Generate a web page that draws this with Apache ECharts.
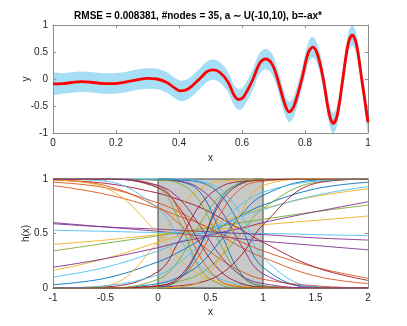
<!DOCTYPE html>
<html>
<head>
<meta charset="utf-8">
<style>
	html, body { margin: 0; padding: 0; background: #fff; }
	.main { width: 407px; height: 326px; }
</style>
<script src="https://cdn.jsdelivr.net/npm/echarts@6/dist/echarts.min.js"></script>
</head>
<body>
<div id="main" class="main"></div>
<script>
// top plot: fitted curve (red) and the noisy samples around it
var FIT_X = [0, 0.03, 0.06, 0.09, 0.12, 0.15, 0.18, 0.21, 0.24, 0.27, 0.30, 0.33, 0.36, 0.385, 0.405, 0.43,
	0.465, 0.49, 0.51, 0.53, 0.555, 0.575, 0.59, 0.605, 0.635, 0.655, 0.675, 0.695, 0.713, 0.735, 0.75,
	0.765, 0.79, 0.81, 0.825, 0.84, 0.858, 0.877, 0.89, 0.903, 0.92, 0.937, 0.95, 0.963, 0.98, 1.0];
var FIT_Y = [-0.09, -0.085, -0.065, -0.05, -0.06, -0.08, -0.085, -0.075, -0.045, -0.01, 0.01, 0.0, -0.06, -0.16, -0.22, -0.18,
	0.0, 0.14, 0.17, 0.12, -0.05, -0.3, -0.38, -0.33, 0.0, 0.28, 0.37, 0.28, 0.0, -0.45, -0.61,
	-0.5, 0.0, 0.48, 0.59, 0.45, 0.0, -0.65, -0.82, -0.65, 0.0, 0.65, 0.81, 0.65, 0.0, -0.8];
// half height of the sample cloud around the fit
var NOISE_HALF = 0.19;

// bottom plot: the 35 hidden node outputs h(x)
var H_X = [-1, -0.5, 0, 0.2, 0.4, 0.6, 0.8, 1, 1.5, 2];
var H_CURVES = [
	[0.03, 0.09, 0.24, 0.33, 0.44, 0.56, 0.67, 0.76, 0.91, 0.97],
	[0.94, 0.86, 0.73, 0.66, 0.59, 0.50, 0.42, 0.34, 0.19, 0.09],
	[0.40, 0.44, 0.49, 0.51, 0.52, 0.54, 0.56, 0.58, 0.62, 0.66],
	[0.60, 0.56, 0.52, 0.50, 0.48, 0.47, 0.45, 0.43, 0.39, 0.35],
	[0.34, 0.41, 0.48, 0.51, 0.54, 0.57, 0.60, 0.63, 0.70, 0.76],
	[0.53, 0.52, 0.51, 0.51, 0.50, 0.50, 0.50, 0.50, 0.49, 0.48],
	[0.99, 0.96, 0.87, 0.81, 0.74, 0.64, 0.53, 0.42, 0.19, 0.07],

	[1, 1, 1, 0.98, 0.88, 0.50, 0.12, 0.02, 0, 0],
	[0.97, 0.92, 0.78, 0.70, 0.59, 0.48, 0.37, 0.28, 0.11, 0.04],
	[0.16, 0.27, 0.42, 0.48, 0.55, 0.61, 0.67, 0.73, 0.84, 0.91],
	[0.59, 0.56, 0.54, 0.53, 0.52, 0.51, 0.50, 0.49, 0.46, 0.44],
	[0, 0, 0.02, 0.06, 0.13, 0.29, 0.51, 0.73, 0.97, 1],
	[0.10, 0.19, 0.34, 0.42, 0.50, 0.58, 0.66, 0.72, 0.85, 0.93],
	[0, 0.01, 0.15, 0.43, 0.76, 0.93, 0.98, 1, 1, 1],

	[1, 1, 1, 0.99, 0.97, 0.85, 0.54, 0.19, 0, 0],
	[0.99, 0.94, 0.74, 0.59, 0.41, 0.26, 0.15, 0.08, 0.02, 0],
	[0.99, 0.92, 0.50, 0.27, 0.12, 0.05, 0.02, 0.01, 0, 0],
	[1, 1, 0.99, 0.98, 0.91, 0.71, 0.38, 0.13, 0.01, 0],
	[1, 1, 0.92, 0.62, 0.18, 0.03, 0, 0, 0, 0],
	[1, 0.98, 0.73, 0.46, 0.21, 0.08, 0.03, 0.01, 0, 0],
	[0, 0, 0.01, 0.02, 0.05, 0.13, 0.31, 0.58, 0.96, 1],

	[0, 0, 0.01, 0.08, 0.38, 0.82, 0.97, 1, 1, 1],
	[0, 0, 0.02, 0.08, 0.31, 0.69, 0.92, 0.98, 1, 1],
	[0, 0.02, 0.42, 0.73, 0.91, 0.98, 0.99, 1, 1, 1],
	[0.19, 0.27, 0.37, 0.42, 0.46, 0.51, 0.55, 0.60, 0.70, 0.79],
	[1, 1, 0.99, 0.96, 0.79, 0.39, 0.10, 0.02, 0, 0],
	[1, 1, 1, 1, 0.98, 0.90, 0.66, 0.28, 0.01, 0],
	[1, 1, 0.92, 0.74, 0.41, 0.15, 0.04, 0.01, 0, 0],

	[0, 0, 0.04, 0.10, 0.22, 0.44, 0.68, 0.85, 0.99, 1],
	[1, 1, 0.94, 0.71, 0.29, 0.06, 0.01, 0, 0, 0],
	[0, 0, 0, 0.01, 0.06, 0.29, 0.71, 0.94, 1, 1],
	[1, 1, 0.94, 0.82, 0.57, 0.29, 0.11, 0.04, 0, 0],
	[0, 0, 0.08, 0.26, 0.59, 0.85, 0.96, 0.99, 1, 1],
	[0, 0.02, 0.12, 0.23, 0.40, 0.60, 0.77, 0.88, 0.98, 1],
	[0, 0, 0.02, 0.10, 0.39, 0.79, 0.96, 0.99, 1, 1]
];
// input domain shaded in the bottom plot
var DOMAIN = [0, 1];

var COLORS = ['#0072BD', '#D95319', '#EDB120', '#7E2F8E', '#77AC30', '#4DBEEE', '#A2142F'];
var FONT = 'Liberation Sans, Arial, sans-serif';
var TEXT = '#262626';
var BOX = '#8c8c8c';
var TITLE = 'RMSE = 0.008381, #nodes = 35, a \u223C U(-10,10), b=-ax*';

function pairs(xs, ys) {
	return xs.map(function (x, i) { return [x, ys[i]]; });
}

function axis(grid, pos, min, max, step, name, gap, labels) {
	return {
		type: 'value', gridIndex: grid, position: pos, min: min, max: max, interval: step,
		name: name, nameLocation: 'middle', nameGap: gap, nameMoveOverlap: false,
		nameRotate: (pos === 'left') ? 90 : 0,
		nameTextStyle: { color: TEXT, fontSize: 10, fontFamily: FONT },
		axisLine: { show: true, onZero: false, lineStyle: { color: BOX, width: 1 } },
		axisTick: { show: true, inside: true, length: 3, lineStyle: { color: BOX } },
		axisLabel: { show: labels, margin: 5, color: TEXT, fontSize: 10, fontFamily: FONT },
		splitLine: { show: false }
	};
}

var myChart = echarts.init(document.getElementById('main'), null, { renderer: 'canvas' });

var series = [];

// sample cloud: one polygon, fit + half height going right, fit - half height coming back
series.push({
	type: 'custom', xAxisIndex: 0, yAxisIndex: 0, data: [0], silent: true, clip: true, z: 2,
	renderItem: function (params, api) {
		var up = FIT_X.map(function (x, i) { return api.coord([x, FIT_Y[i] + NOISE_HALF]); });
		var down = FIT_X.map(function (x, i) { return api.coord([x, FIT_Y[i] - NOISE_HALF]); }).reverse();
		return {
			type: 'polygon',
			shape: { points: up.concat(down), smooth: 0.35 },
			style: { fill: 'rgba(77,190,238,0.5)', stroke: null }
		};
	}
});
series.push({
	type: 'line', xAxisIndex: 0, yAxisIndex: 0, z: 5,
	data: pairs(FIT_X, FIT_Y), symbol: 'none', smooth: 0.35, silent: true,
	lineStyle: { color: '#ff0000', width: 2.8 }
});

// shaded domain
series.push({
	type: 'line', xAxisIndex: 2, yAxisIndex: 2, data: [], silent: true,
	markArea: {
		silent: true, z: 1,
		itemStyle: { color: '#c8c8c8', borderColor: '#404040', borderWidth: 1 },
		data: [[{ xAxis: DOMAIN[0], yAxis: 0 }, { xAxis: DOMAIN[1], yAxis: 1 }]]
	}
});

H_CURVES.forEach(function (ys, i) {
	series.push({
		type: 'line', xAxisIndex: 2, yAxisIndex: 2, z: 3,
		data: pairs(H_X, ys), symbol: 'none', smooth: 0.4, silent: true,
		lineStyle: { color: COLORS[i % COLORS.length], width: 0.9 }
	});
});

var option = {
	animation: false,
	backgroundColor: '#fff',
	graphic: [{
		type: 'text', x: 198, y: 16, silent: true,
		style: {
			text: TITLE, align: 'center', verticalAlign: 'middle',
			fill: '#000', font: 'bold 10px ' + FONT
		}
	}],
	grid: [
		{ left: 53, top: 25, width: 315, height: 108 },
		{ left: 53, top: 179, width: 315, height: 109 }
	],
	xAxis: [
		axis(0, 'bottom', 0, 1, 0.2, 'x', 20, true),
		axis(0, 'top', 0, 1, 0.2, '', 0, false),
		axis(1, 'bottom', -1, 2, 0.5, 'x', 19, true),
		axis(1, 'top', -1, 2, 0.5, '', 0, false)
	],
	yAxis: [
		axis(0, 'left', -1, 1, 0.5, 'y', 22, true),
		axis(0, 'right', -1, 1, 0.5, '', 0, false),
		axis(1, 'left', 0, 1, 0.5, 'h(x)', 22, true),
		axis(1, 'right', 0, 1, 0.5, '', 0, false)
	],
	series: series
};

myChart.setOption(option);
</script>
</body>
</html>
